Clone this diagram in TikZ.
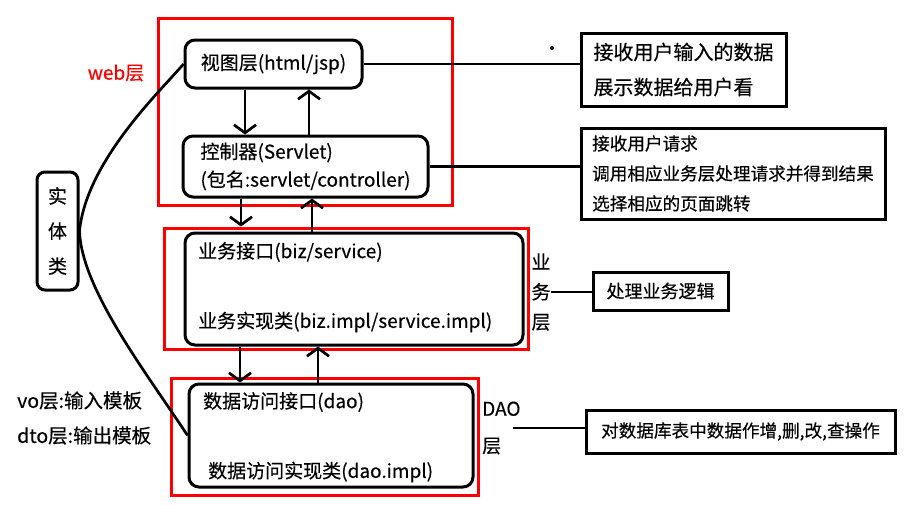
\documentclass[tikz,border=0pt]{standalone}
\usepackage{fontspec}
\setmainfont{Noto Sans CJK SC}[FakeBold=0.4]
\usepackage{tikz}
\usetikzlibrary{arrows.meta,positioning}
\tikzset{
layer/.style = {rectangle, draw=red, line width=3pt, inner sep=0pt},% cadre rouge d'une couche
cls/.style = {rectangle, rounded corners=10pt, draw=black, line width=3pt, inner sep=0pt,
font=\fontsize{19}{28}\selectfont},% boite de classe
txt/.style = {inner sep=0pt, font=\fontsize{19}{28}\selectfont},% texte dans une boite
note/.style = {rectangle, draw=black, line width=3pt, align=left, inner sep=0pt},% boite de remarque
lbl/.style = {inner sep=0pt, font=\fontsize{19}{30}\selectfont},% etiquette de couche
wire/.style = {line width=2.7pt},
flow/.style = {line width=2.7pt, -{Straight Barb[length=8pt,width=22pt]}}
}
\begin{document}
\begin{tikzpicture}[x=1pt, y=-1pt]
\useasboundingbox (0,0) rectangle (906,504);
% couches
\node[layer, minimum width=294pt, minimum height=187pt] (web) at (305,111.5) {};
\node[layer, minimum width=364pt, minimum height=121pt] (bizframe) at (346,288.5) {};
\node[layer, minimum width=307pt, minimum height=117pt] (daoframe) at (324.5,436.5) {};
% classes
\node[cls, minimum width=177pt, minimum height=48pt] (view) at (273.5,64) {视图层(html/jsp)};
\node[cls, align=left, minimum width=245pt, minimum height=61pt] (ctrl) at (305.5,166.5)
  {控制器(Servlet)\\(包名:servlet/controller)};
\node[cls, minimum width=338pt, minimum height=112pt] (biz) at (354,289) {};
\node[txt, anchor=west] (bizif) at (198,252) {业务接口(biz/service)};
\node[txt, anchor=west] (bizimpl) at (198,322) {业务实现类(biz.impl/service.impl)};
\node[cls, minimum width=284pt, minimum height=103pt] (dao) at (331,435.5) {};
\node[txt, anchor=west] (daoif) at (203,402) {数据访问接口(dao)};
\node[txt, anchor=west] (daoimpl) at (208,472) {数据访问实现类(dao.impl)};
\node[cls, rounded corners=8pt, align=center, minimum width=41pt, minimum height=118pt,
  font=\fontsize{19}{35}\selectfont] (ent) at (57.5,231) {实\\体\\类};
% etiquettes
\node[lbl, text=red, font=\fontsize{19}{24}\selectfont] (weblbl) at (116,73) {web层};
\node[lbl, align=center] (bizlbl) at (541,292) {业\\务\\层};
\node[lbl, align=left, anchor=west, font=\fontsize{19}{37}\selectfont] (daolbl) at (482,428) {DAO\\层};
\node[lbl, align=left, anchor=west, font=\fontsize{19.5}{35}\selectfont] (vo) at (17,418)
  {vo层:输入模板\\dto层:输出模板};
% remarques
\node[note, minimum width=205pt, minimum height=73pt, font=\fontsize{20}{35}\selectfont] (n1)
  at (683.5,69.5) {接收用户输入的数据\\展示数据给用户看};
\node[note, minimum width=304pt, minimum height=91pt, font=\fontsize{17.6}{30}\selectfont] (n2)
  at (733,173.5) {接收用户请求\\调用相应业务层处理请求并得到结果\\选择相应的页面跳转};
\node[note, minimum width=135pt, minimum height=38pt, font=\fontsize{18}{24}\selectfont] (n3)
  at (660.5,291) {处理业务逻辑};
\node[note, minimum width=309pt, minimum height=43pt, font=\fontsize{17.6}{24}\selectfont] (n4)
  at (740.5,431.5) {对数据库表中数据作增,删,改,查操作};
\node[circle, fill=black, inner sep=0pt, minimum size=4pt] (dot) at (552,48) {};
% fleches
\coordinate (x1) at (245,0);
\coordinate (x2) at (309,0);
\coordinate (x3) at (241,0);
\coordinate (x4) at (312,0);
\coordinate (x5) at (240,0);
\coordinate (x6) at (318,0);
\draw[flow] (view.south -| x1) -- (ctrl.north -| x1);
\draw[flow] (ctrl.north -| x2) -- (view.south -| x2);
\draw[flow] (ctrl.south -| x3) -- (bizframe.north -| x3);
\draw[flow] (biz.north -| x4) -- (ctrl.south -| x4);
\draw[flow] (biz.south -| x5) -- (dao.north -| x5);
\draw[flow] (dao.north -| x6) -- (biz.south -| x6);
% liens
\draw[wire] (view.east) -- (view.east -| n1.west);
\draw[wire] (ctrl.east) -- (ctrl.east -| n2.west);
\draw[wire] (bizlbl.east) -- (bizlbl.east -| n3.west);
\draw[wire] ([xshift=-8pt]daolbl.east) -- (daolbl.east -| n4.west);
\draw[wire] (ent.east) .. controls +(7,-71) and +(-20,24) .. (view.west);
\draw[wire] (ent.east) .. controls +(2,59) and +(-39,-60) .. (dao.west);
\end{tikzpicture}
\end{document}
